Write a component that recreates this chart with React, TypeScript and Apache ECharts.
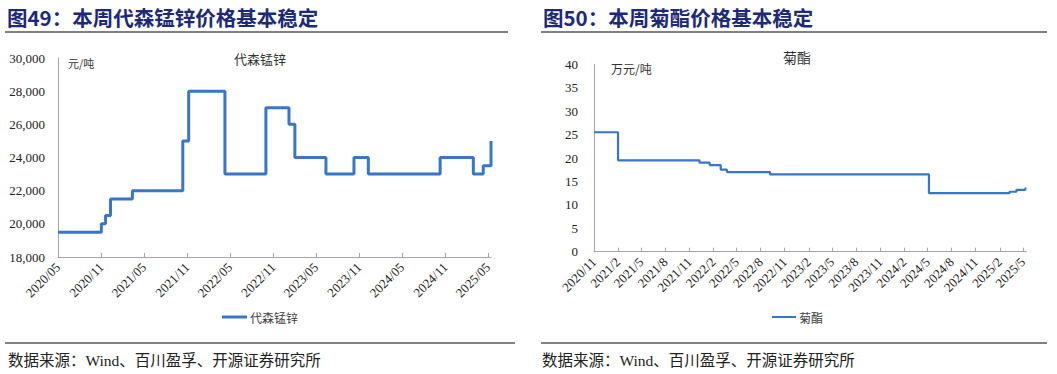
import React, { useEffect, useRef } from 'react';
import * as echarts from 'echarts';

// 代森锰锌 (元/吨): step change dates and values after change
const mzDates = [
  '2020-05-01', '2020-11-01', '2020-11-19', '2020-12-10', '2021-03-13', '2021-10-13',
  '2021-11-07', '2022-04-10', '2022-10-01', '2023-01-07', '2023-02-01', '2023-06-13',
  '2023-10-10', '2023-12-10', '2024-10-10', '2025-02-28', '2025-04-11', '2025-05-14',
];
const mzValues = [
  19500, 20000, 20500, 21500, 22000, 25000,
  28000, 23000, 27000, 26000, 24000, 23000,
  24000, 23000, 24000, 23000, 23500, 25000,
];
const mzTicks = [
  '2020-05-01', '2020-11-01', '2021-05-01', '2021-11-01', '2022-05-01', '2022-11-01',
  '2023-05-01', '2023-11-01', '2024-05-01', '2024-11-01', '2025-05-01',
];

// 菊酯 (万元/吨)
const jzDates = [
  '2020-11-01', '2021-02-01', '2021-12-10', '2022-01-18', '2022-03-01', '2022-03-25',
  '2022-09-06', '2024-05-06', '2025-03-10', '2025-04-06', '2025-05-10', '2025-05-14',
];
const jzValues = [25.5, 19.5, 19, 18.5, 17.5, 17, 16.5, 12.5, 12.8, 13.2, 13.5, 13.5];
const jzTicks = [
  '2020-11-01', '2021-02-01', '2021-05-01', '2021-08-01', '2021-11-01', '2022-02-01',
  '2022-05-01', '2022-08-01', '2022-11-01', '2023-02-01', '2023-05-01', '2023-08-01',
  '2023-11-01', '2024-02-01', '2024-05-01', '2024-08-01', '2024-11-01', '2025-02-01',
  '2025-05-01',
];

const ts = (s: string) => {
  const [y, m, d] = s.split('-').map(Number);
  return new Date(y, m - 1, d).getTime();
};

const SERIF = '"Liberation Serif", "Times New Roman", serif';
const CJK = '"Noto Sans CJK SC", sans-serif';
const MIX = '"Liberation Serif", "Noto Sans CJK SC", serif';
const LINE_COLOR = '#3776c8';
const AXIS_COLOR = '#a6a6a6';
const TITLE_COLOR = '#1c2a78';

export default function App() {
  const ref = useRef<HTMLDivElement>(null);
  useEffect(() => {
    if (!ref.current) return;
    const chart = echarts.init(ref.current, null, { renderer: 'svg' });
    const fmtYM = (v: number) => {
      const d = new Date(v);
      return d.getFullYear() + '/' + String(d.getMonth() + 1).padStart(2, '0');
    };
    const fmtYMs = (v: number) => {
      const d = new Date(v);
      return d.getFullYear() + '/' + (d.getMonth() + 1);
    };
    const mzTickTs = mzTicks.map(ts);
    const jzTickTs = jzTicks.map(ts);
    const option: any = {
      animation: false,
      textStyle: { fontFamily: SERIF },
      grid: [
        { left: 58, top: 58, width: 433, height: 199, containLabel: false, outerBoundsMode: 'none' },
        { left: 594, top: 64.3, width: 432.4, height: 187.4, containLabel: false, outerBoundsMode: 'none' },
      ],
      xAxis: [
        {
          type: 'value', gridIndex: 0, min: ts('2020-05-01'), max: ts('2025-05-14'),
          axisLine: { lineStyle: { color: AXIS_COLOR, width: 1 } },
          axisTick: { inside: true, length: 4, lineStyle: { color: AXIS_COLOR }, customValues: mzTickTs },
          axisLabel: {
            customValues: mzTickTs, rotate: 45, formatter: fmtYM, fontSize: 13,
            color: '#222', fontFamily: SERIF, margin: 8,
          },
          splitLine: { show: false },
        },
        {
          type: 'value', gridIndex: 1, min: ts('2020-11-01'), max: ts('2025-05-14'),
          axisLine: { lineStyle: { color: AXIS_COLOR, width: 1 } },
          axisTick: { inside: true, length: 4, lineStyle: { color: AXIS_COLOR }, customValues: jzTickTs },
          axisLabel: {
            customValues: jzTickTs, rotate: 45, formatter: fmtYMs, fontSize: 13,
            color: '#222', fontFamily: SERIF, margin: 8,
          },
          splitLine: { show: false },
        },
      ],
      yAxis: [
        {
          type: 'value', gridIndex: 0, min: 18000, max: 30000, interval: 2000,
          axisLine: { show: true, lineStyle: { color: AXIS_COLOR, width: 1 } },
          axisTick: { show: false },
          splitLine: { show: false },
          axisLabel: {
            fontSize: 13, color: '#222', fontFamily: SERIF, margin: 13,
            formatter: (v: number) => v.toLocaleString('en-US'),
          },
        },
        {
          type: 'value', gridIndex: 1, min: 0, max: 40, interval: 5,
          axisLine: { show: true, lineStyle: { color: AXIS_COLOR, width: 1 } },
          axisTick: { show: false },
          splitLine: { show: false },
          axisLabel: { fontSize: 13, color: '#222', fontFamily: SERIF, margin: 16 },
        },
      ],
      legend: [
        {
          data: ['代森锰锌'], left: 222, top: 311, padding: 0, icon: 'rect',
          itemWidth: 25, itemHeight: 3, itemGap: 4,
          textStyle: { fontFamily: CJK, fontSize: 12, color: '#404040', padding: [0, 0, 0, -2] },
        },
        {
          data: ['菊酯'], left: 772, top: 311, padding: 0, icon: 'rect',
          itemWidth: 24, itemHeight: 2, itemGap: 4,
          textStyle: { fontFamily: CJK, fontSize: 12, color: '#404040', padding: [0, 0, 0, -2] },
        },
      ],
      series: [
        {
          name: '代森锰锌', type: 'line', xAxisIndex: 0, yAxisIndex: 0, step: 'end',
          showSymbol: false, symbol: 'none',
          lineStyle: { color: LINE_COLOR, width: 3 }, itemStyle: { color: LINE_COLOR },
          data: mzDates.map((d, i) => [ts(d), mzValues[i]]),
        },
        {
          name: '菊酯', type: 'line', xAxisIndex: 1, yAxisIndex: 1, step: 'end',
          showSymbol: false, symbol: 'none',
          lineStyle: { color: LINE_COLOR, width: 2.2 }, itemStyle: { color: LINE_COLOR },
          data: jzDates.map((d, i) => [ts(d), jzValues[i]]),
        },
      ],
      graphic: [
        {
          type: 'text', x: 7, y: 17,
          style: {
            text: '图49：本周代森锰锌价格基本稳定', font: 'bold 20.5px "Noto Sans CJK SC"',
            fill: TITLE_COLOR, textAlign: 'left', textVerticalAlign: 'middle',
          },
        },
        {
          type: 'text', x: 543, y: 17,
          style: {
            text: '图50：本周菊酯价格基本稳定', font: 'bold 20.5px "Noto Sans CJK SC"',
            fill: TITLE_COLOR, textAlign: 'left', textVerticalAlign: 'middle',
          },
        },
        { type: 'line', shape: { x1: 5, y1: 32, x2: 508, y2: 32 }, style: { stroke: '#808080', lineWidth: 2 } },
        { type: 'line', shape: { x1: 541, y1: 32, x2: 1047, y2: 32 }, style: { stroke: '#808080', lineWidth: 2 } },
        { type: 'line', shape: { x1: 5, y1: 343, x2: 515, y2: 343 }, style: { stroke: '#808080', lineWidth: 2 } },
        { type: 'line', shape: { x1: 541, y1: 343, x2: 1047, y2: 343 }, style: { stroke: '#808080', lineWidth: 2 } },
        {
          type: 'text', x: 8, y: 360,
          style: {
            text: '数据来源：Wind、百川盈孚、开源证券研究所', font: '15.5px ' + MIX,
            fill: '#222', textAlign: 'left', textVerticalAlign: 'middle',
          },
        },
        {
          type: 'text', x: 542, y: 360,
          style: {
            text: '数据来源：Wind、百川盈孚、开源证券研究所', font: '15.5px ' + MIX,
            fill: '#222', textAlign: 'left', textVerticalAlign: 'middle',
          },
        },
        {
          type: 'text', x: 260, y: 58,
          style: { text: '代森锰锌', font: '13px ' + CJK, fill: '#333', textAlign: 'center', textVerticalAlign: 'middle' },
        },
        {
          type: 'text', x: 68, y: 63,
          style: { text: '元/吨', font: '11px ' + CJK, fill: '#333', textAlign: 'left', textVerticalAlign: 'middle' },
        },
        {
          type: 'text', x: 797, y: 57,
          style: { text: '菊酯', font: '14px ' + CJK, fill: '#333', textAlign: 'center', textVerticalAlign: 'middle' },
        },
        {
          type: 'text', x: 611, y: 68,
          style: { text: '万元/吨', font: '12px ' + CJK, fill: '#333', textAlign: 'left', textVerticalAlign: 'middle' },
        },
      ],
    };
    chart.setOption(option);
    return () => chart.dispose();
  }, []);
  return (
    <div
      ref={ref}
      style={{ position: 'absolute', left: 0, top: 0, width: 1057, height: 374, background: '#fff' }}
    />
  );
}
